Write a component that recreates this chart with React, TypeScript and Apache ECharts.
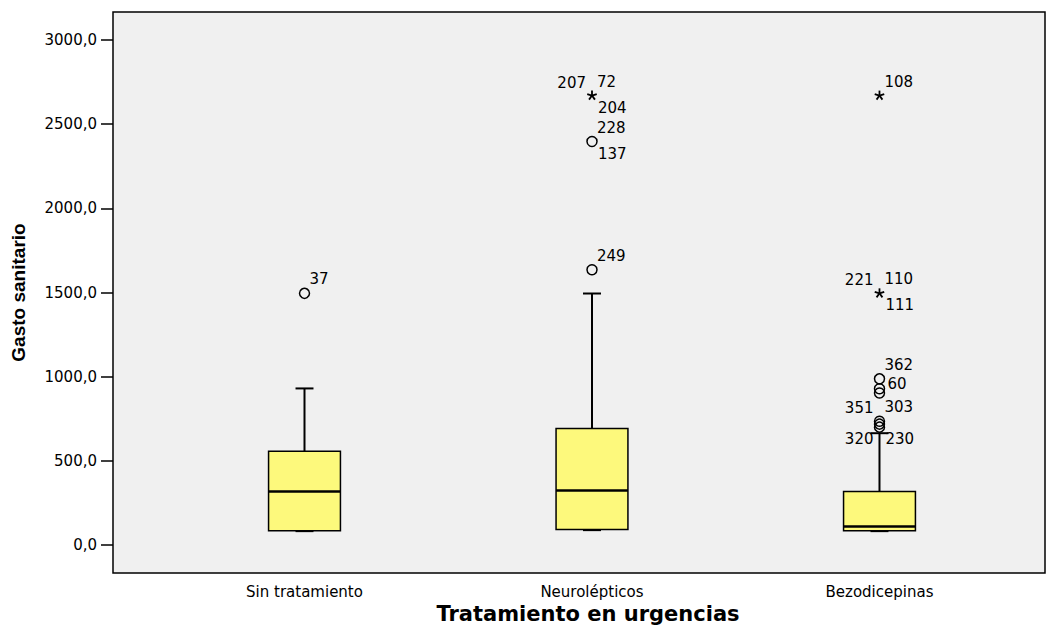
import React, { useEffect, useRef } from "react";
import * as echarts from "echarts";

const categories = ["Sin tratamiento", "Neurolépticos", "Bezodicepinas"];
const whiskerLow = [82, 88, 82];
const quartile1 = [84, 92, 84];
const medians = [318, 324, 110];
const quartile3 = [557, 692, 318];
const whiskerHigh = [930, 1494, 664];

const outlierGroup = [0, 1, 1, 1, 2, 2, 2, 2, 2, 2, 2, 2];
const outlierValue = [1495, 1635, 2397, 2670, 2670, 1495, 987, 928, 903, 735, 718, 700];
const outlierKind = ["o", "o", "o", "*", "*", "*", "o", "o", "o", "o", "o", "o"];
const labelUL = ["", "", "", "207", "", "221", "", "", "", "351", "", ""];
const labelUR = ["37", "249", "228", "72", "108", "110", "362", "", "", "303", "", ""];
const labelR = ["", "", "", "", "", "", "60", "", "", "", "", ""];
const labelLR = ["", "", "137", "204", "", "111", "", "", "", "", "", "230"];
const labelLL = ["", "", "", "", "", "", "", "", "", "", "", "320"];

const yTicks = [0, 500, 1000, 1500, 2000, 2500, 3000];
const xTicks = [1, 2, 3];

const FONT = "DejaVu Sans, Verdana, sans-serif";

export default function App() {
  const ref = useRef<HTMLDivElement>(null);
  useEffect(() => {
    document.body.style.margin = "0";
    const chart = echarts.init(ref.current!, null, { renderer: "svg" });

    const boxData = categories.map((_, i) => [
      i + 1,
      whiskerLow[i],
      quartile1[i],
      medians[i],
      quartile3[i],
      whiskerHigh[i],
    ]);
    const outData = outlierValue.map((v, i) => [outlierGroup[i] + 1, v, i]);

    const txt = (text: string, x: number, y: number, align: string) => ({
      type: "text",
      x,
      y,
      style: {
        text,
        fill: "#000",
        fontSize: 15,
        fontFamily: FONT,
        align,
        verticalAlign: "middle",
        textAlign: align,
        textVerticalAlign: "middle",
      },
    });

    chart.setOption({
      animation: false,
      backgroundColor: "#ffffff",
      grid: {
        left: 113,
        top: 12,
        right: 13,
        bottom: 55,
        show: true,
        backgroundColor: "#f0f0f0",
        borderColor: "#000",
        borderWidth: 1.5,
        outerBoundsMode: "none",
      },
      xAxis: {
        type: "value",
        min: 0.3339,
        max: 3.5757,
        axisLine: { show: false, onZero: false },
        splitLine: { show: false },
        axisTick: { show: false },
        axisLabel: {
          customValues: xTicks,
          formatter: (v: number) => categories[Math.round(v) - 1] ?? "",
          fontSize: 15,
          fontFamily: FONT,
          color: "#000",
          margin: 11,
        },
        name: "Tratamiento en urgencias",
        nameLocation: "middle",
        nameGap: 30,
        nameTextStyle: {
          fontSize: 21,
          fontWeight: "bold",
          fontFamily: FONT,
          color: "#000",
          padding: [0, 0, 0, 18],
        },
      },
      yAxis: {
        type: "value",
        min: -166.7,
        max: 3166.7,
        axisLine: { show: false },
        splitLine: { show: false },
        axisTick: {
          show: true,
          inside: false,
          length: 12,
          customValues: yTicks,
          lineStyle: { color: "#000", width: 1.5 },
        },
        axisLabel: {
          customValues: yTicks,
          formatter: (v: number) => v.toFixed(1).replace(".", ","),
          fontSize: 15,
          fontFamily: FONT,
          color: "#000",
          margin: 16,
        },
        name: "Gasto sanitario",
        nameLocation: "middle",
        nameGap: 85,
        nameTextStyle: {
          fontSize: 19,
          fontWeight: "bold",
          fontFamily: "Liberation Sans, Arial, sans-serif",
          color: "#000",
        },
      },
      series: [
        {
          type: "custom",
          name: "box",
          data: boxData,
          encode: { x: 0, y: [1, 2, 3, 4, 5] },
          renderItem: (params: any, api: any) => {
            const x = api.value(0);
            const pLow = api.coord([x, api.value(1)]);
            const pQ1 = api.coord([x, api.value(2)]);
            const pMed = api.coord([x, api.value(3)]);
            const pQ3 = api.coord([x, api.value(4)]);
            const pHigh = api.coord([x, api.value(5)]);
            const half = api.size([0.25, 0])[0] / 2;
            const cap = half / 4;
            const cx = pMed[0];
            const ls = { stroke: "#000", lineWidth: 2 };
            return {
              type: "group",
              children: [
                { type: "line", shape: { x1: cx, y1: pQ3[1], x2: cx, y2: pHigh[1] }, style: ls },
                { type: "line", shape: { x1: cx - cap, y1: pHigh[1], x2: cx + cap, y2: pHigh[1] }, style: ls },
                { type: "line", shape: { x1: cx, y1: pQ1[1], x2: cx, y2: pLow[1] }, style: ls },
                { type: "line", shape: { x1: cx - cap, y1: pLow[1], x2: cx + cap, y2: pLow[1] }, style: ls },
                {
                  type: "rect",
                  shape: { x: cx - half, y: pQ3[1], width: half * 2, height: pQ1[1] - pQ3[1] },
                  style: { fill: "#fdf97c", stroke: "#000", lineWidth: 1.5 },
                },
                {
                  type: "line",
                  shape: { x1: cx - half, y1: pMed[1], x2: cx + half, y2: pMed[1] },
                  style: { stroke: "#000", lineWidth: 2.5 },
                },
              ],
            };
          },
        },
        {
          type: "custom",
          name: "outliers",
          data: outData,
          encode: { x: 0, y: 1 },
          renderItem: (params: any, api: any) => {
            const p = api.coord([api.value(0), api.value(1)]);
            const i = api.value(2);
            const [px, py] = p;
            const children: any[] = [];
            if (outlierKind[i] === "o") {
              children.push({
                type: "circle",
                shape: { cx: px, cy: py, r: 5 },
                style: { fill: "none", stroke: "#000", lineWidth: 1.5 },
              });
            } else {
              const r = 5;
              const angles = [90, 18, 162, 234, 306];
              angles.forEach((a) => {
                const rad = (a * Math.PI) / 180;
                children.push({
                  type: "line",
                  shape: { x1: px, y1: py, x2: px + r * Math.cos(rad), y2: py - r * Math.sin(rad) },
                  style: { stroke: "#000", lineWidth: 1.8 },
                });
              });
            }
            if (labelUR[i]) children.push(txt(labelUR[i], px + 5, py - 14, "left"));
            if (labelUL[i]) children.push(txt(labelUL[i], px - 6, py - 13, "right"));
            if (labelLR[i]) children.push(txt(labelLR[i], px + 6, py + 12, "left"));
            if (labelLL[i]) children.push(txt(labelLL[i], px - 6, py + 12, "right"));
            if (labelR[i]) children.push(txt(labelR[i], px + 8, py + 5, "left"));
            return { type: "group", children };
          },
        },
      ],
    });
    return () => chart.dispose();
  }, []);
  return <div ref={ref} style={{ width: 1058, height: 628 }} />;
}
